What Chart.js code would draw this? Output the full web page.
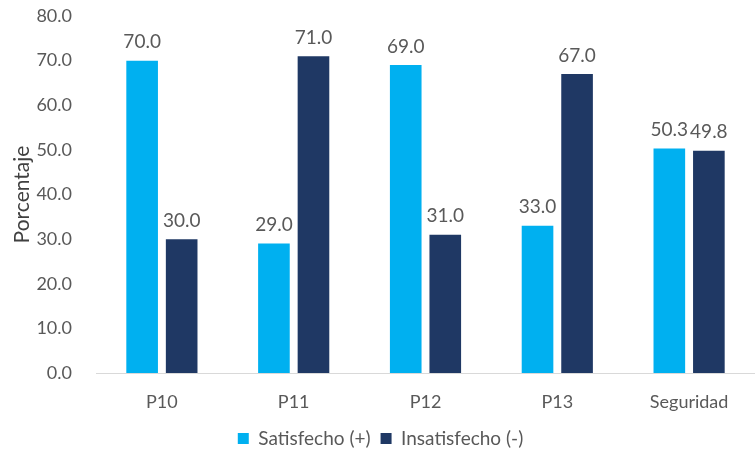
<!DOCTYPE html>
<html>
<head>
<meta charset="utf-8">
<script src="https://cdn.jsdelivr.net/npm/chart.js@4.4.1/dist/chart.umd.min.js"></script>
<style>
  html, body { margin: 0; padding: 0; background: #fff; }
  #wrap { width: 755px; height: 458px; position: relative; }
</style>
</head>
<body>
<div id="wrap"><canvas id="chart"></canvas></div>
<script>
// data
const categories = ["P10", "P11", "P12", "P13", "Seguridad"];
const satisfecho = [70.0, 29.0, 69.0, 33.0, 50.3];
const insatisfecho = [30.0, 71.0, 31.0, 67.0, 49.8];
const seriesNames = ["Satisfecho (+)", "Insatisfecho (-)"];

const FONT = "Lato, 'Open Sans', sans-serif";
const GREY = "#595959";

// value labels above each bar
const barLabels = {
    id: "barLabels",
    afterDatasetsDraw(chart) {
        const ctx = chart.ctx;
        ctx.save();
        ctx.font = "19px " + FONT;
        ctx.fillStyle = GREY;
        ctx.textAlign = "center";
        ctx.textBaseline = "bottom";
        chart.data.datasets.forEach((ds, i) => {
            chart.getDatasetMeta(i).data.forEach((bar, j) => {
                ctx.fillText(ds.data[j].toFixed(1), bar.x, bar.y - 9);
            });
        });
        ctx.restore();
    }
};

const ctx = document.getElementById("chart").getContext("2d");
new Chart(ctx, {
    type: "bar",
    data: {
        labels: categories,
        datasets: [
            {
                label: seriesNames[0],
                data: satisfecho,
                backgroundColor: "#00B0F0",
                categoryPercentage: 0.6,
                barPercentage: 0.8
            },
            {
                label: seriesNames[1],
                data: insatisfecho,
                backgroundColor: "#1F3864",
                categoryPercentage: 0.6,
                barPercentage: 0.8
            }
        ]
    },
    options: {
        responsive: true,
        maintainAspectRatio: false,
        animation: false,
        layout: { padding: { top: 16, right: 0, left: 6, bottom: 0 } },
        scales: {
            x: {
                grid: { display: false },
                border: { display: true, color: "#D9D9D9" },
                ticks: { color: GREY, font: { family: FONT, size: 18 }, padding: 10 },
                afterFit: (scale) => { scale.height = 46; }
            },
            y: {
                min: 0,
                max: 80,
                grid: { display: false },
                border: { display: false },
                ticks: {
                    stepSize: 10,
                    color: GREY,
                    font: { family: FONT, size: 18 },
                    padding: 16,
                    callback: (v) => v.toFixed(1)
                },
                title: {
                    display: true,
                    text: "Porcentaje",
                    color: "#404040",
                    font: { family: FONT, size: 21 }
                },
                afterFit: (scale) => {
                    scale.width = 90;
                    scale.paddingTop = 0;
                }
            }
        },
        plugins: {
            legend: {
                position: "bottom",
                labels: {
                    color: GREY,
                    font: { family: FONT, size: 19 },
                    boxWidth: 11,
                    boxHeight: 11,
                    padding: 10
                }
            },
            tooltip: { enabled: false }
        }
    },
    plugins: [barLabels]
});
</script>
</body>
</html>
